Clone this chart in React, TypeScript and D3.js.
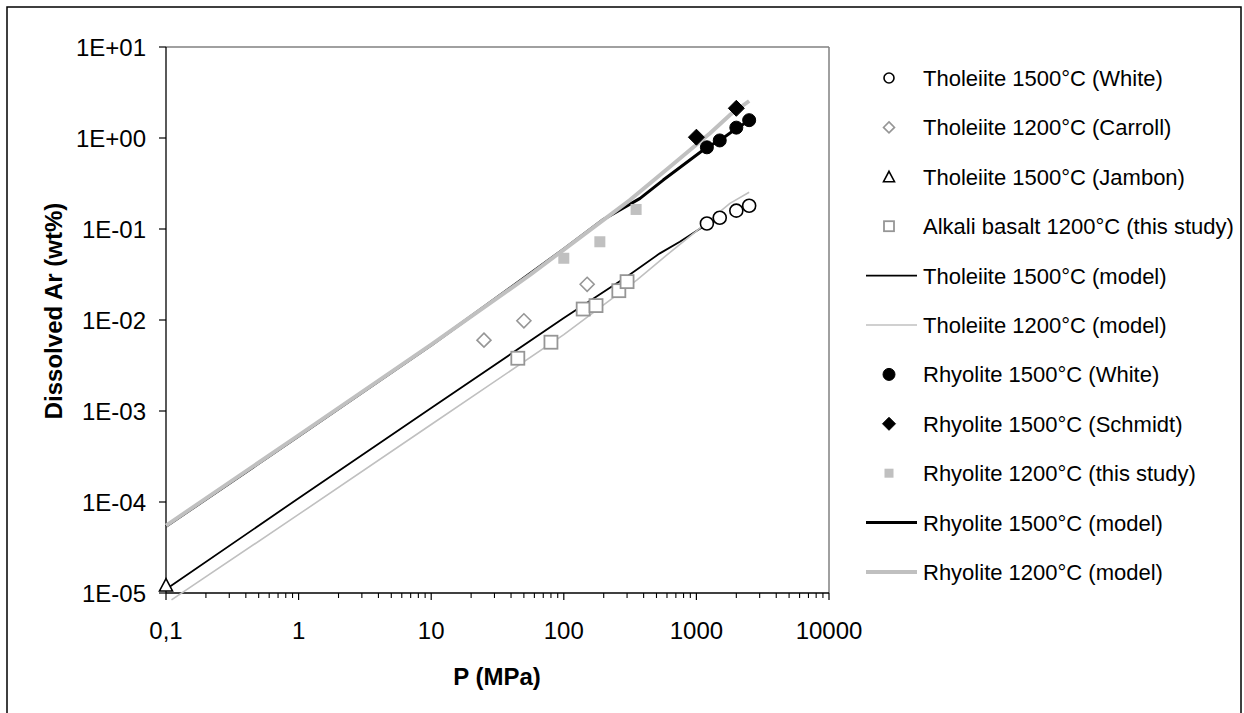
import React from "react";
import * as d3 from "d3";

type Pt = [number, number];

const xTicks = [0.1, 1, 10, 100, 1000, 10000];
const xTickLabels = ["0,1", "1", "10", "100", "1000", "10000"];
const yTicks = [10, 1, 0.1, 0.01, 0.001, 0.0001, 0.00001];
const yTickLabels = ["1E+01", "1E+00", "1E-01", "1E-02", "1E-03", "1E-04", "1E-05"];

const tholWhite: Pt[] = [[1200, 0.115], [1500, 0.133], [2000, 0.159], [2500, 0.18]];
const tholCarroll: Pt[] = [[25, 0.006], [50, 0.0098], [150, 0.0247]];
const tholJambon: Pt[] = [[0.1, 1.22e-5]];
const alkaliBasalt: Pt[] = [[45, 0.0038], [80, 0.0057], [140, 0.0132], [175, 0.0144], [260, 0.021], [300, 0.0264]];
const tholModel1500: Pt[] = [[0.1, 1.1e-5], [1, 1.1e-4], [10, 1.08e-3], [100, 0.0105], [300, 0.03], [530, 0.054], [750, 0.0724], [1000, 0.095], [1200, 0.113]];
const tholModel1200: Pt[] = [[0.11, 8.4e-6], [1, 7.3e-5], [10, 7.1e-4], [100, 6.9e-3], [355, 0.0275], [600, 0.052], [1000, 0.095], [1790, 0.191], [2500, 0.253]];
const rhyWhite: Pt[] = [[1200, 0.79], [1500, 0.94], [2000, 1.3], [2500, 1.57]];
const rhySchmidt: Pt[] = [[1000, 1.02], [2000, 2.12]];
const rhyThisStudy: Pt[] = [[100, 0.0477], [187, 0.0724], [351, 0.164]];
const rhyModel1500: Pt[] = [[0.1, 5.4e-5], [1, 5.3e-4], [10, 5.3e-3], [100, 0.06], [200, 0.128], [376, 0.217], [562, 0.345], [1200, 0.79], [1500, 0.94], [2000, 1.27], [2500, 1.55]];
const rhyModel1200: Pt[] = [[0.1, 5.5e-5], [1, 5.4e-4], [10, 5.35e-3], [55.6, 0.0313], [99, 0.0587], [315, 0.208], [632, 0.484], [1267, 1.13], [1790, 1.79], [2500, 2.55]];

const legendLabels = [
  "Tholeiite 1500°C (White)",
  "Tholeiite 1200°C (Carroll)",
  "Tholeiite 1500°C (Jambon)",
  "Alkali basalt 1200°C (this study)",
  "Tholeiite 1500°C (model)",
  "Tholeiite 1200°C (model)",
  "Rhyolite 1500°C (White)",
  "Rhyolite 1500°C (Schmidt)",
  "Rhyolite 1200°C (this study)",
  "Rhyolite 1500°C (model)",
  "Rhyolite 1200°C (model)",
];

type MarkerKind = "circleOpen" | "diamondOpen" | "triangleOpen" | "squareOpen" | "circleFilled" | "diamondFilled" | "squareFilled";

const FONT = "'Liberation Sans', Arial, sans-serif";

function Marker({ kind, x, y, s }: { kind: MarkerKind; x: number; y: number; s: number }) {
  const h = s / 2;
  switch (kind) {
    case "circleOpen":
      return <circle cx={x} cy={y} r={h} fill="#fff" stroke="#000" strokeWidth={1.6} />;
    case "circleFilled":
      return <circle cx={x} cy={y} r={h} fill="#000" stroke="#000" strokeWidth={1} />;
    case "diamondOpen":
      return <polygon points={`${x},${y - h} ${x + h},${y} ${x},${y + h} ${x - h},${y}`} fill="#fff" stroke="#969696" strokeWidth={1.6} />;
    case "diamondFilled":
      return <polygon points={`${x},${y - h} ${x + h},${y} ${x},${y + h} ${x - h},${y}`} fill="#000" stroke="#000" strokeWidth={1} />;
    case "triangleOpen":
      return <polygon points={`${x},${y - h} ${x + h},${y + h * 0.9} ${x - h},${y + h * 0.9}`} fill="#fff" stroke="#000" strokeWidth={1.6} />;
    case "squareOpen":
      return <rect x={x - h} y={y - h} width={s} height={s} fill="#fff" stroke="#969696" strokeWidth={1.8} />;
    case "squareFilled":
      return <rect x={x - h} y={y - h} width={s} height={s} fill="#c0c0c0" stroke="none" />;
  }
  return null;
}

export default function App() {
  const W = 1244, H = 713;
  const x = d3.scaleLog().domain([0.1, 10000]).range([166, 829]);
  const y = d3.scaleLog().domain([1e-5, 10]).range([593, 47]);
  const line = d3.line<Pt>().x((d) => x(d[0])).y((d) => y(d[1]));

  const minorX: number[] = [];
  for (let e = -1; e < 4; e++) for (let m = 2; m <= 9; m++) minorX.push(m * Math.pow(10, e));

  const lines = [
    { data: tholModel1500, color: "#000", w: 1.8 },
    { data: tholModel1200, color: "#c0c0c0", w: 1.6 },
    { data: rhyModel1500, color: "#000", w: 3 },
    { data: rhyModel1200, color: "#c0c0c0", w: 4 },
  ];

  const pointSeries: { data: Pt[]; kind: MarkerKind; s: number }[] = [
    { data: tholWhite, kind: "circleOpen", s: 13 },
    { data: tholCarroll, kind: "diamondOpen", s: 14 },
    { data: tholJambon, kind: "triangleOpen", s: 13 },
    { data: alkaliBasalt, kind: "squareOpen", s: 13 },
    { data: rhyWhite, kind: "circleFilled", s: 13 },
    { data: rhySchmidt, kind: "diamondFilled", s: 16 },
    { data: rhyThisStudy, kind: "squareFilled", s: 11 },
  ];

  const legendItems: ({ type: "m"; kind: MarkerKind; s: number } | { type: "l"; color: string; w: number })[] = [
    { type: "m", kind: "circleOpen", s: 10 },
    { type: "m", kind: "diamondOpen", s: 11 },
    { type: "m", kind: "triangleOpen", s: 11 },
    { type: "m", kind: "squareOpen", s: 10 },
    { type: "l", color: "#000", w: 1.8 },
    { type: "l", color: "#c0c0c0", w: 1.6 },
    { type: "m", kind: "circleFilled", s: 12 },
    { type: "m", kind: "diamondFilled", s: 13 },
    { type: "m", kind: "squareFilled", s: 9 },
    { type: "l", color: "#000", w: 3 },
    { type: "l", color: "#c0c0c0", w: 4 },
  ];

  return (
    <svg width={W} height={H} style={{ position: "absolute", left: 0, top: 0, background: "#fff" }} fontFamily={FONT}>
      <rect x={0} y={0} width={W} height={H} fill="#fff" />
      <rect x={7} y={7} width={1234} height={712} fill="none" stroke="#000" strokeWidth={1.5} />

      {/* plot border top/right */}
      <line x1={166} y1={47} x2={829} y2={47} stroke="#808080" strokeWidth={1.5} />
      <line x1={829} y1={47} x2={829} y2={593} stroke="#808080" strokeWidth={1.5} />

      {/* axes */}
      <line x1={166} y1={47} x2={166} y2={593} stroke="#000" strokeWidth={1.3} />
      <line x1={166} y1={593} x2={829} y2={593} stroke="#000" strokeWidth={1.3} />
      {yTicks.map((t, i) => (
        <g key={"yt" + i}>
          <line x1={159} y1={y(t)} x2={166} y2={y(t)} stroke="#000" strokeWidth={1.2} />
          <text x={146} y={y(t)} dy="0.36em" textAnchor="end" fontSize={24} fill="#000">
            {yTickLabels[i]}
          </text>
        </g>
      ))}
      {minorX.map((t, i) => (
        <line key={"mx" + i} x1={x(t)} y1={593} x2={x(t)} y2={598} stroke="#000" strokeWidth={1.1} />
      ))}
      {xTicks.map((t, i) => (
        <g key={"xt" + i}>
          <line x1={x(t)} y1={593} x2={x(t)} y2={600} stroke="#000" strokeWidth={1.2} />
          <text x={x(t)} y={639} textAnchor="middle" fontSize={24} fill="#000">
            {xTickLabels[i]}
          </text>
        </g>
      ))}

      {/* lines */}
      {lines.map((l, i) => (
        <path key={"l" + i} d={line(l.data) || ""} fill="none" stroke={l.color} strokeWidth={l.w} strokeLinejoin="round" />
      ))}

      {/* markers */}
      {pointSeries.map((s, i) =>
        s.data.map((d, j) => <Marker key={`p${i}-${j}`} kind={s.kind} x={x(d[0])} y={y(d[1])} s={s.s} />)
      )}

      {/* axis titles */}
      <text x={497} y={685} textAnchor="middle" fontSize={24} fontWeight="bold" fill="#000">
        P (MPa)
      </text>
      <text transform="translate(62,311) rotate(-90)" textAnchor="middle" fontSize={24} fontWeight="bold" fill="#000">
        Dissolved Ar (wt%)
      </text>

      {/* legend */}
      {legendLabels.map((lab, i) => {
        const cy = 78 + i * 49.4;
        const it = legendItems[i];
        return (
          <g key={"lg" + i}>
            {it.type === "m" ? (
              <Marker kind={it.kind} x={889} y={cy} s={it.s} />
            ) : (
              <line x1={866} y1={cy} x2={917} y2={cy} stroke={it.color} strokeWidth={it.w} />
            )}
            <text x={923} y={cy} dy="0.36em" fontSize={22} fill="#000">
              {lab}
            </text>
          </g>
        );
      })}
    </svg>
  );
}
